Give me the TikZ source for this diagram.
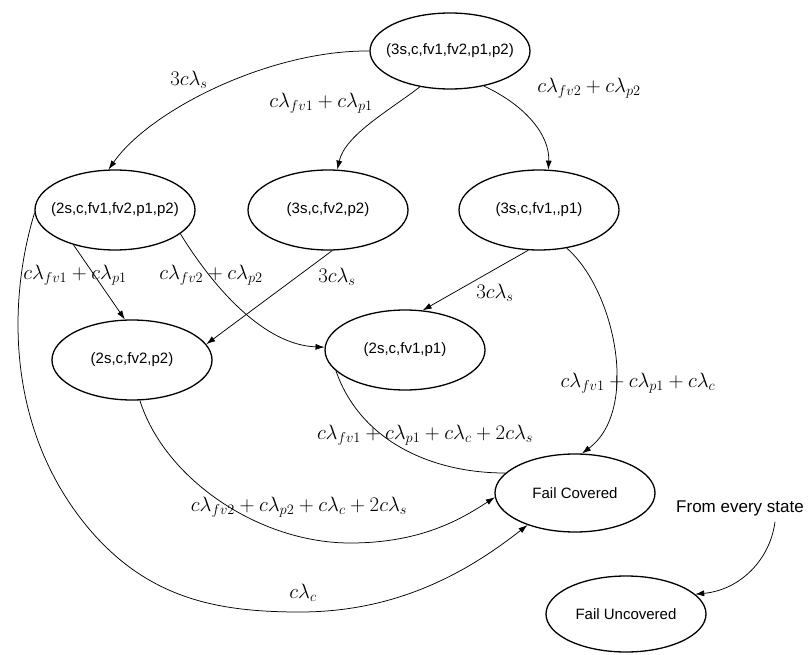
\documentclass[tikz,border=0pt]{standalone}
\usepackage{fontspec}
\newfontfamily\arialf{Liberation Sans}
\usetikzlibrary{shapes.geometric,arrows.meta}
\begin{document}
\begin{tikzpicture}[x=1pt,y=-1pt,
  st/.style={ellipse,draw,line width=1.3pt,minimum width=160pt,minimum height=80pt,inner sep=0pt,
    font=\arialf\fontsize{15}{18}\selectfont},
  tr/.style={line width=0.75pt,-{Latex[length=9pt,width=6pt]}},
  ln/.style={line width=0.75pt},
  lab/.style={font=\fontsize{20.74}{24}\selectfont,inner sep=0pt}]
\useasboundingbox (0,0) rectangle (809,655);

% states
\node[st,minimum height=76pt] (A) at (450,51) {\makebox[0pt]{(3s,c,fv1,fv2,p1,p2)}};
\node[st] (B) at (115,210) {\makebox[0pt]{(2s,c,fv1,fv2,p1,p2)}};
\node[st] (C) at (328,210) {\makebox[0pt]{(3s,c,fv2,p2)}};
\node[st] (D) at (539,210) {\makebox[0pt]{(3s,c,fv1,,p1)}};
\node[st] (E) at (132,360) {\makebox[0pt]{(2s,c,fv2,p2)}};
\node[st] (F) at (405,350) {\makebox[0pt]{(2s,c,fv1,p1)}};
\node[st,minimum height=78pt] (G) at (575,493) {\makebox[0pt]{Fail Covered}};
\node[st,minimum height=76pt] (H) at (626,614) {\makebox[0pt]{Fail Uncovered}};
\node[font=\arialf\fontsize{17}{20}\selectfont,inner sep=0pt] (from) at (740,508) {From every state};

% transitions
\draw[tr] (A.west) .. controls (270,50) and (150,110) .. (B.99);
\draw[tr] (A.230) .. controls (390,110) and (345,135) .. (C.77);
\draw[tr] (A.-46) .. controls (525,105) and (550,135) .. (D.77);
\draw[tr] (B.220) -- (E.100);
\draw[tr] (B.-20) .. controls (215,290) and (265,345) .. (F.178);
\draw[tr] (C.-84) -- (E.12);
\draw[tr] (D.-105) -- (F.66);
\draw[tr] (D.-54) .. controls (615,290) and (640,410) .. (G.80);
\draw[ln] (F.197) .. controls (360,440) and (430,473) .. (G.164);
\draw[tr] (E.-79) .. controls (165,480) and (260,543) .. (350,543)
          .. controls (420,543) and (460,520) .. (G.183);
\draw[tr] (B.182) .. controls (8,300) and (5,430) .. (90,530)
          .. controls (150,600) and (220,612) .. (300,612)
          .. controls (400,612) and (470,570) .. (G.214);
\draw[tr] ([xshift=35pt,yshift=-6pt]from.south) .. controls (770,560) and (740,590) .. (H.16);

% rates
\node[lab] (l1) at (189,80) {$3c\lambda_s$};
\node[lab] (l2) at (321,103) {$c\lambda_{fv1}+c\lambda_{p1}$};
\node[lab] (l3) at (589,88) {$c\lambda_{fv2}+c\lambda_{p2}$};
\node[lab] (l4) at (75,275) {$c\lambda_{fv1}+c\lambda_{p1}$};
\node[lab] (l5) at (211,275) {$c\lambda_{fv2}+c\lambda_{p2}$};
\node[lab] (l6) at (337,277) {$3c\lambda_s$};
\node[lab] (l7) at (495,293) {$3c\lambda_s$};
\node[lab] (l8) at (638,383) {$c\lambda_{fv1}+c\lambda_{p1}+c\lambda_c$};
\node[lab] (l9) at (425,435) {$c\lambda_{fv1}+c\lambda_{p1}+c\lambda_c+2c\lambda_s$};
\node[lab] (l10) at (299,507) {$c\lambda_{fv2}+c\lambda_{p2}+c\lambda_c+2c\lambda_s$};
\node[lab] (l11) at (303,593) {$c\lambda_c$};
\end{tikzpicture}
\end{document}
